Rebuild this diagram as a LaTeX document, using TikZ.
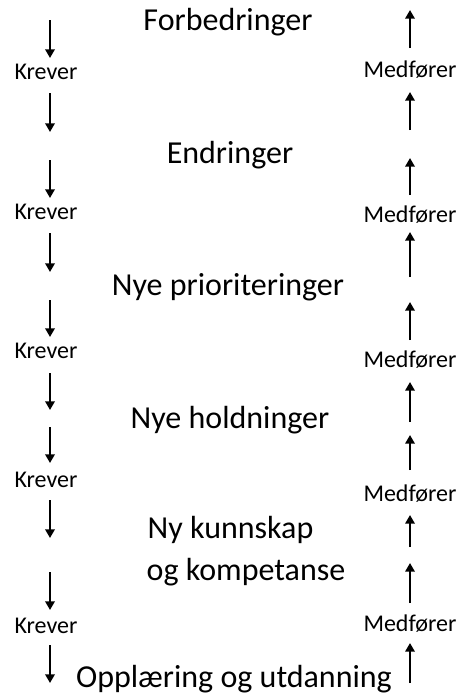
\documentclass[tikz,border=0pt]{standalone}
\usepackage{fontspec}
\setmainfont{Carlito}
\usetikzlibrary{arrows.meta}

\begin{document}
\begin{tikzpicture}[x=0.75pt, y=-0.75pt,
    step label/.style={font=\fontsize{18}{20}\selectfont, anchor=base},
    stage/.style={font=\fontsize{24}{30}\selectfont, anchor=base},
    flow/.style={line width=1.8pt, -{Triangle[width=7pt,length=6.5pt]}}]
        \useasboundingbox (0, 0) rectangle (461, 697);
        % stages
        \node[stage] (forb) at (228, 30) {Forbedringer};
        \node[stage] (endr) at (230, 163) {Endringer};
        \node[stage] (prio) at (228, 295) {Nye prioriteringer};
        \node[stage] (hold) at (230, 428) {Nye holdninger};
        \node[stage, anchor=base west] (kunn) at (143, 538) {Ny kunnskap};
        \node[stage, anchor=base west] (komp) at (142, 580) {og kompetanse};
        \node[stage] (oppl) at (234, 687) {Opplæring og utdanning};
        % labels
        \foreach \i/\yk/\ym in {1/79/77, 2/219/222, 3/358/367, 4/487/501, 5/633/631} {
          \node[step label] (krev\i) at (46, \yk) {Krever};
          \node[step label] (medf\i) at (410, \ym) {Medfører};
        }
        % arrows down on the left
        \foreach \i/\ya/\yb in {1/20/58, 2/93/132, 3/160/198, 4/233/272, 5/300/337,
                               6/373/410, 7/427/463, 8/500/538, 9/572/610, 10/645/683} {
          \coordinate (ls\i) at (50, \ya);
          \coordinate (le\i) at (50, \yb);
          \draw[flow] (ls\i) -- (le\i);
        }
        % arrows up on the right
        \foreach \i/\ya/\yb in {1/48/10, 2/130/92, 3/195/158, 4/277/232, 5/340/302,
                               6/422/382, 7/470/435, 8/547/515, 9/603/563, 10/683/643} {
          \coordinate (rs\i) at (410, \ya);
          \coordinate (re\i) at (410, \yb);
          \draw[flow] (rs\i) -- (re\i);
        }
      \end{tikzpicture}
\end{document}
